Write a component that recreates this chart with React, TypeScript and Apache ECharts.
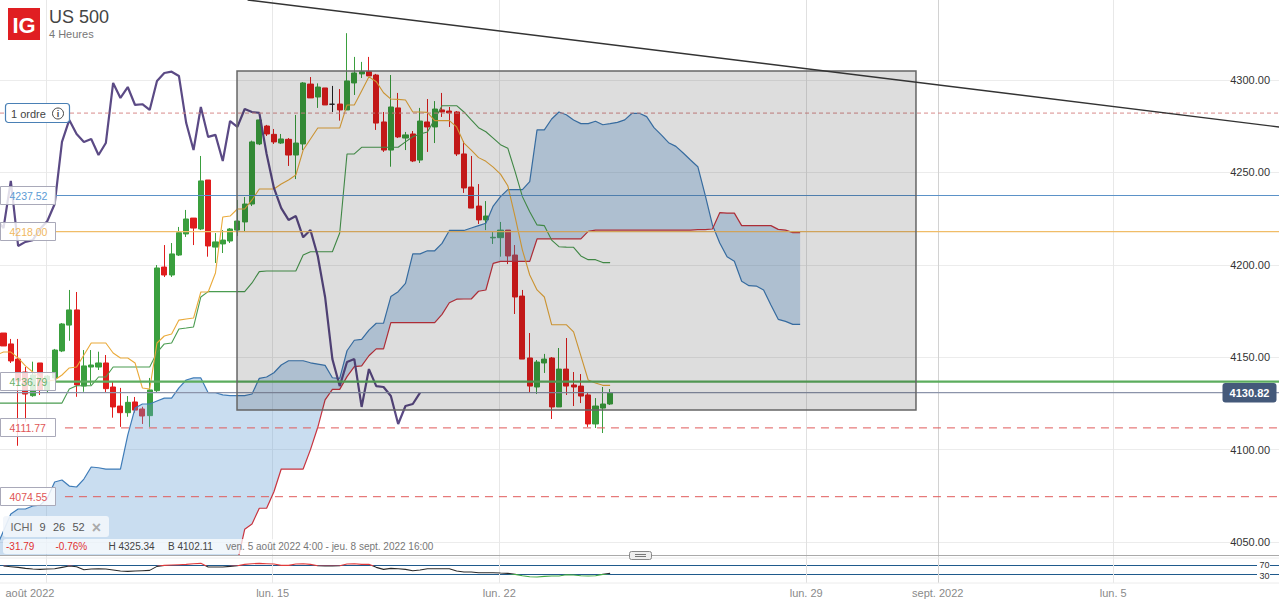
import React, { useEffect, useRef } from "react";
import * as echarts from "echarts";

// ---- data (bar number k = 1..84 for candles, 4-hour bars) ----
const opens = [4163.1,4157.2,4149.0,4142.0,4129.2,4146.9,4132.3,4138.8,4153.4,4167.4,4175.6,4134.4,4144.7,4144.7,4146.9,4133.9,4123.6,4120.0,4125.8,4122.0,4118.4,4131.9,4198.8,4194.5,4205.3,4216.7,4225.3,4219.4,4245.9,4209.6,4211.3,4212.9,4218.8,4223.2,4232.9,4265.4,4275.1,4270.6,4265.9,4267.9,4259.4,4265.4,4297.8,4290.8,4295.7,4286.9,4287.0,4283.8,4298.4,4303.3,4304.5,4302.7,4277.3,4262.1,4284.9,4268.6,4270.8,4256.7,4277.3,4274.6,4283.8,4283.2,4282.7,4260.0,4242.1,4231.8,4224.3,4214.6,4214.7,4218.8,4205.3,4183.1,4149.6,4133.9,4146.9,4149.6,4123.1,4143.6,4135.0,4134.4,4129.6,4113.9,4122.5,4124.7];
const closes = [4156.1,4148.0,4137.1,4130.1,4140.4,4132.3,4139.8,4153.9,4168.0,4175.6,4135.0,4145.3,4145.8,4146.9,4133.0,4123.1,4120.0,4125.6,4121.4,4118.2,4132.3,4198.3,4194.5,4205.9,4217.4,4224.8,4219.9,4245.4,4210.2,4212.4,4213.4,4219.4,4223.7,4232.9,4266.5,4278.4,4270.8,4266.5,4268.1,4259.4,4265.9,4298.4,4290.3,4296.2,4286.5,4286.9,4283.8,4299.5,4303.8,4304.5,4302.2,4276.7,4262.1,4285.4,4269.2,4270.3,4256.2,4277.8,4274.6,4284.3,4282.7,4282.2,4260.0,4241.6,4230.7,4224.3,4226.4,4214.9,4218.8,4204.8,4182.6,4149.0,4134.4,4147.4,4149.0,4123.1,4143.6,4134.4,4133.9,4129.0,4113.9,4123.6,4124.7,4130.82];
const lows = [4156.1,4146.9,4102.11,4115.1,4128.6,4129.6,4130.8,4137.7,4152.8,4158.9,4128.6,4131.3,4135.0,4143.1,4131.2,4117.3,4112.3,4117.8,4120.0,4113.9,4112.3,4130.8,4193.4,4193.4,4204.8,4215.1,4210.7,4218.8,4204.4,4201.0,4206.4,4211.8,4215.6,4217.8,4231.8,4264.8,4269.7,4265.4,4265.4,4253.5,4246.4,4262.1,4290.3,4284.9,4286.5,4282.7,4278.0,4283.8,4291.9,4301.1,4302.2,4273.0,4261.1,4253.1,4268.6,4262.1,4255.6,4255.1,4261.1,4265.9,4280.0,4274.6,4258.9,4238.9,4230.7,4222.1,4218.8,4211.3,4204.4,4200.4,4173.4,4149.0,4131.2,4130.1,4141.5,4116.6,4123.1,4129.6,4123.6,4125.2,4112.3,4111.7,4109.0,4124.2];
const highs = [4163.1,4159.9,4159.9,4144.7,4147.6,4146.9,4140.4,4154.5,4168.5,4186.4,4185.3,4153.9,4153.9,4153.0,4151.2,4136.8,4133.4,4129.0,4128.5,4123.2,4138.8,4199.9,4210.7,4211.8,4220.5,4229.7,4225.3,4258.9,4245.9,4217.2,4218.8,4219.9,4235.1,4236.7,4267.2,4278.9,4275.7,4273.5,4270.8,4268.6,4281.1,4298.9,4301.6,4298.2,4295.7,4296.8,4295.1,4325.34,4312.5,4309.8,4312.5,4303.3,4282.7,4302.7,4293.0,4271.9,4272.4,4284.9,4289.7,4288.6,4293.0,4285.4,4283.2,4267.0,4258.9,4243.7,4234.5,4217.9,4223.2,4218.8,4210.7,4186.4,4163.1,4148.5,4151.8,4150.1,4155.0,4160.4,4142.0,4140.9,4131.2,4127.9,4133.9,4132.8];

// Ichimoku lines, from bar 0
const chikou = [4224.8,4219.9,4245.4,4210.2,4212.4,4213.4,4219.4,4223.7,4232.9,4266.5,4278.4,4270.8,4266.5,4268.1,4259.4,4265.9,4298.4,4290.3,4296.2,4286.5,4286.9,4283.8,4299.5,4303.8,4304.5,4302.2,4276.7,4262.1,4285.4,4269.2,4270.3,4256.2,4277.8,4274.6,4284.3,4282.7,4282.2,4260.0,4241.6,4230.7,4224.3,4226.4,4214.9,4218.8,4204.8,4182.6,4149.0,4134.4,4147.4,4149.0,4123.1,4143.6,4134.4,4133.9,4129.0,4113.9,4123.6,4124.7,4130.82];
const tenkan = [4151.2,4152.8,4152.8,4149.6,4145.3,4142.0,4138.8,4137.1,4137.7,4140.4,4144.2,4144.7,4151.2,4157.7,4157.7,4157.7,4152.3,4149.6,4149.6,4146.9,4133.4,4132.8,4157.7,4161.5,4162.6,4170.1,4170.7,4171.2,4185.3,4185.3,4195.6,4225.9,4226.4,4230.2,4230.2,4235.1,4241.0,4241.0,4241.0,4243.7,4245.9,4248.6,4262.1,4268.1,4274.0,4274.0,4274.0,4274.0,4286.5,4286.5,4294.1,4301.8,4299.1,4293.1,4289.7,4289.5,4289.2,4282.7,4282.7,4282.5,4278.0,4278.0,4278.0,4274.6,4265.9,4262.1,4258.0,4256.0,4252.9,4249.1,4242.8,4225.9,4208.0,4194.5,4186.4,4182.6,4167.6,4167.6,4167.6,4163.7,4150.7,4137.7,4136.1,4134.8,4134.8];
const kijun = [4125.2,4125.2,4125.2,4125.2,4125.2,4125.2,4125.2,4125.2,4125.2,4125.2,4132.8,4134.6,4134.6,4134.6,4139.3,4139.3,4144.7,4144.7,4144.7,4144.7,4144.7,4144.7,4152.5,4157.2,4157.7,4165.3,4165.8,4166.4,4182.6,4185.5,4185.5,4185.5,4185.5,4185.5,4185.5,4190.2,4196.3,4196.7,4196.7,4196.7,4196.7,4196.7,4205.3,4207.1,4207.1,4207.1,4207.1,4217.2,4260.0,4260.0,4263.6,4263.6,4263.6,4263.6,4263.6,4263.6,4266.5,4269.3,4270.8,4271.9,4278.7,4286.1,4286.1,4286.1,4282.7,4278.4,4274.2,4272.0,4268.6,4265.0,4263.1,4250.4,4236.9,4228.7,4221.6,4221.2,4213.4,4209.8,4209.6,4209.5,4204.8,4202.8,4202.8,4201.2,4201.2];
const senkouA = [4047.0,4056.0,4065.2,4067.9,4067.9,4069.5,4070.0,4073.8,4082.5,4083.6,4080.3,4079.8,4084.1,4090.6,4090.2,4089.5,4089.5,4089.5,4107.9,4122.5,4124.7,4124.7,4126.3,4127.9,4127.9,4133.4,4137.7,4138.8,4138.8,4130.8,4130.8,4129.6,4129.2,4129.2,4129.2,4130.1,4138.6,4139.3,4141.6,4145.8,4148.1,4148.1,4148.1,4147.0,4146.3,4145.6,4138.9,4138.6,4153.5,4159.2,4159.7,4164.7,4168.4,4168.5,4182.8,4185.5,4190.0,4205.9,4205.9,4207.6,4207.6,4211.6,4218.6,4218.6,4218.6,4219.9,4221.2,4222.5,4231.8,4236.9,4240.7,4240.7,4240.7,4245.0,4273.0,4273.0,4278.9,4282.7,4281.2,4278.4,4276.4,4276.4,4277.7,4275.8,4276.4,4277.1,4278.4,4282.0,4282.0,4280.2,4274.2,4270.3,4266.1,4264.1,4260.5,4256.7,4253.1,4237.8,4221.6,4211.8,4204.4,4201.9,4191.1,4188.7,4188.5,4186.4,4178.3,4170.5,4169.4,4167.8,4167.8];
const senkouB = [4020,4020,4020,4020,4020,4020,4020,4020,4020,4020,4020,4020,4020,4020,4020,4020,4020,4020,4020,4020,4020,4020,4020,4020,4020,4020,4020,4020,4020,4020,4020,4020,4025,4039.2,4056.9,4059.8,4068.3,4068.3,4077.2,4089.5,4089.5,4089.5,4089.5,4100,4112.1,4126.9,4132.6,4132.6,4139.5,4144.9,4145.3,4150.8,4154.5,4154.5,4168.7,4168.7,4168.7,4168.7,4168.7,4168.7,4168.7,4173.2,4179.5,4181.4,4181.5,4181.5,4185.7,4186.4,4200.8,4201.9,4201.9,4201.9,4201.9,4201.9,4214.0,4214.0,4214.0,4214.0,4214.0,4214.0,4214.0,4218.1,4218.8,4218.8,4218.8,4218.8,4218.8,4218.8,4218.8,4218.8,4218.8,4218.8,4218.8,4218.8,4218.8,4218.8,4219.1,4219.1,4219.4,4228.2,4228.0,4228.0,4221.2,4221.2,4221.2,4221.2,4221.2,4219.2,4218.8,4217.4,4217.4];

// oscillator in the lower pane, from bar 1
const rsi = [68.5,65.4,62.3,57.6,54.5,53,54.5,56,62.3,68.5,65.4,51.4,54.5,56,54.5,49.9,45.2,43.7,45.2,46.8,48.3,66.9,71.6,73.1,74.7,76.2,79.3,80.9,63.8,63.8,63.8,66.9,70,76.2,79.3,80.9,79.3,77.8,71.6,71.6,77.8,79.3,76.2,70,68.5,68.5,70,77.8,79.3,76.2,76.2,62.3,53,57.6,56,53,46.8,49.9,56,56,56,56,45.2,40.6,40.6,37.5,37.5,37.5,35.9,34.4,29.7,23.5,18.9,17.3,20.4,22,22,28.2,26.6,23.5,22,23.5,29.7,34.4];

// price levels
const levelBlue = 4237.52;
const levelOrange = 4218.0;
const levelGreen = 4136.79;
const levelLast = 4130.82;
const levelRedA = 4111.77;
const levelRedB = 4074.55;
const levelOrder = 4282.1;
const trendLine = [[34.4, 4343.3], [175.52, 4274.6]];
const boxCorners = [[32.95, 4304.9, 125.85, 4121.4]];

// axes
const priceTicks = [4050, 4100, 4150, 4200, 4250, 4300];
const oscTicks = [30, 70];
const gridTicks = [6.83, 37.83, 68.83, 110.83, 128.83, 152.83];
const gridColors = ["#e8e8e8", "#e8e8e8", "#e8e8e8", "#e0e0e0", "#d2d2d2", "#e8e8e8"];
const dateTicks = [4.62, 37.83, 68.83, 110.83, 128.83, 152.83];
const dateLabels = ["août 2022", "lun. 15", "lun. 22", "lun. 29", "sept. 2022", "lun. 5"];

const FONT = '"Liberation Sans", Arial, sans-serif';
const pairs = (arr: number[], start: number) => arr.map((v, i) => [start + i, v]);
const hline = (v: number, from: number) => [[from, v], [175.52, v]];

function levelLine(name: string, data: number[][], color: string, width: number, z: number, type: any = "solid") {
  return { name, type: "line", data, showSymbol: false, silent: true, z, lineStyle: { color, width, type }, animation: false };
}

function boxLabel(text: string, y: number, color: string) {
  return [
    { type: "rect", z: 100, shape: { x: 0.5, y, width: 55, height: 18 }, style: { fill: "rgba(255,255,255,0.82)", stroke: "#a9a9b9", lineWidth: 1 } },
    { type: "text", z: 101, style: { x: 9.5, y: y + 9.5, text, fill: color, font: `10.5px ${FONT}`, align: "left", verticalAlign: "middle" } },
  ];
}

function txt(text: string, x: number, y: number, fill: string, size = 11, align = "left", weight = "normal") {
  return { type: "text", z: 102, style: { x, y, text, fill, font: `${weight} ${size}px ${FONT}`, align, verticalAlign: "middle" } };
}

export default function App() {
  const ref = useRef<HTMLDivElement>(null);
  useEffect(() => {
    document.body.style.margin = "0";
    document.body.style.background = "#fff";
    const chart = echarts.init(ref.current!, null, { renderer: "svg", width: 1279, height: 602 });

    const candles = opens.map((o, i) => [i + 1, o, closes[i], lows[i], highs[i]]);
    const cloudRows = senkouA.map((a, i) => [i, a, senkouB[i]]);

    const series: any[] = [
      {
        name: "US 500", type: "candlestick", data: candles, barWidth: 5.6, z: 2, silent: true,
        encode: { x: 0, y: [1, 2, 3, 4] },
        itemStyle: { color: "#3a9f3e", color0: "#e01c1c", borderColor: "#3a9f3e", borderColor0: "#e01c1c", borderColorDoji: "#222", borderWidth: 1 },
      },
      {
        name: "cloud", type: "custom", z: 3, silent: true, clip: true, data: cloudRows,
        encode: { x: 0, y: [1, 2] },
        renderItem: (p: any, api: any) => {
          if (p.dataIndex !== 0) return null;
          const upper = cloudRows.map((r) => api.coord([r[0], r[1]]));
          const lower = cloudRows.map((r) => api.coord([r[0], r[2]])).reverse();
          return {
            type: "polygon",
            shape: { points: upper.concat(lower) },
            style: { fill: "rgba(101,158,212,0.35)" },
          };
        },
      },
      levelLine("Senkou A", pairs(senkouA, 0), "#3f7cb8", 1.2, 4),
      levelLine("Senkou B", pairs(senkouB, 0), "#c8343f", 1.2, 4),
      levelLine("Kijun", pairs(kijun, 0), "#4a9c50", 1.1, 5),
      levelLine("Tenkan", pairs(tenkan, 0), "#eaaa3a", 1.1, 5),
      levelLine("Chikou", pairs(chikou, 0), "#5b4a85", 2.2, 6),
      levelLine("order", hline(levelOrder, 0.52), "#d88a8a", 1, 7, [4, 3]),
      levelLine("blue", hline(levelBlue, 8.18), "#5b92c8", 1.2, 7),
      levelLine("orange", hline(levelOrange, 8.18), "#f0bd68", 1.2, 7),
      levelLine("green", hline(levelGreen, 8.18), "#5cad5e", 2.2, 7),
      levelLine("last", hline(levelLast, 0.52), "#8c94aa", 1.2, 7),
      levelLine("redA", hline(levelRedA, 9.41), "#e05a5a", 1, 7, [8, 6]),
      levelLine("redB", hline(levelRedB, 9.41), "#e05a5a", 1, 7, [8, 6]),
      levelLine("trend", trendLine, "#333", 1.4, 11),
      {
        name: "box", type: "custom", z: 10, silent: true, data: boxCorners, clip: false,
        encode: { x: [0, 2], y: [1, 3] },
        renderItem: (_p: any, api: any) => {
          const a = api.coord([api.value(0), api.value(1)]);
          const b = api.coord([api.value(2), api.value(3)]);
          return {
            type: "rect",
            shape: { x: a[0], y: a[1], width: b[0] - a[0], height: b[1] - a[1] },
            style: { fill: "rgba(0,0,0,0.135)", stroke: "#666", lineWidth: 1.5 },
          };
        },
      },
      {
        name: "RSI", type: "line", xAxisIndex: 1, yAxisIndex: 1, data: pairs(rsi, 1), showSymbol: false, silent: true, z: 5,
        lineStyle: { width: 1.1 },
      },
    ];
    const rsiIndex = series.length - 1;

    const xCommon = { type: "value", min: 0.52, max: 175.52, axisLine: { show: false } };
    const option: any = {
      animation: false,
      textStyle: { fontFamily: FONT },
      tooltip: { show: false },
      visualMap: {
        show: false, seriesIndex: rsiIndex, dimension: 1,
        pieces: [{ gt: 70, color: "#e23a3a" }, { gt: 30, lte: 70, color: "#2a2a2a" }, { lte: 30, color: "#44aa44" }],
      },
      grid: [
        { left: 0, width: 1279, top: 0, height: 555 },
        { left: 0, width: 1279, top: 556, height: 27 },
      ],
      xAxis: [
        {
          ...xCommon, gridIndex: 0,
          axisTick: { show: false, customValues: gridTicks },
          axisLabel: { show: false },
          splitLine: { show: true, lineStyle: { color: gridColors, width: 1 } },
        },
        {
          ...xCommon, gridIndex: 1,
          axisTick: { show: false, customValues: gridTicks },
          axisLabel: {
            show: true, customValues: dateTicks, margin: 4, fontSize: 11, fontFamily: FONT, hideOverlap: false,
            color: (v: number) => (dateLabels[dateTicks.indexOf(v)] || "").includes("2022") ? "#333" : "#8a8a8a",
            formatter: (v: number) => dateLabels[dateTicks.indexOf(v)] || "",
          },
          splitLine: { show: true, lineStyle: { color: gridColors, width: 1 } },
        },
      ],
      yAxis: [
        {
          type: "value", gridIndex: 0, position: "right", min: 4043.0, max: 4343.29,
          axisLine: { show: false },
          axisTick: { show: false, customValues: priceTicks },
          axisLabel: {
            inside: true, margin: 9, customValues: priceTicks, color: "#333", fontSize: 11, fontFamily: FONT,
            backgroundColor: "#fff", padding: [0, 0, 0, 0],
            formatter: (v: number) => v.toFixed(2),
          },
          splitLine: { show: true, lineStyle: { color: "#ececec", width: 1 } },
        },
        {
          type: "value", gridIndex: 1, position: "right", min: -10.5, max: 115.1,
          axisLine: { show: false },
          axisTick: { show: false, customValues: oscTicks },
          axisLabel: { show: false },
          splitLine: { show: true, lineStyle: { color: "#1f5a8c", width: 1.2 } },
        },
      ],
      series,
      graphic: [
        // header
        { type: "rect", z: 100, shape: { x: 8, y: 8, width: 32, height: 32 }, style: { fill: "#e01e22" } },
        txt("IG", 24, 25, "#fff", 22, "center", "bold"),
        txt("US 500", 49, 17, "#444", 18),
        txt("4 Heures", 49, 34, "#777", 11),
        // order tag
        { type: "rect", z: 100, shape: { x: 5.5, y: 103.5, width: 64, height: 19, r: 3 }, style: { fill: "#fff", stroke: "#4a80b5", lineWidth: 1.2 } },
        txt("1 ordre", 11, 113.5, "#444", 11),
        { type: "circle", z: 101, shape: { cx: 58, cy: 113.5, r: 5.5 }, style: { fill: "#fff", stroke: "#444", lineWidth: 1 } },
        txt("i", 58, 113.5, "#444", 9, "center", "bold"),
        // level labels
        ...boxLabel("4237.52", 186.5, "#5b9bd5"),
        ...boxLabel("4218.00", 222.5, "#f0b860"),
        ...boxLabel("4136.79", 372.5, "#6ab06a"),
        ...boxLabel("4111.77", 418.5, "#e05555"),
        ...boxLabel("4074.55", 487.5, "#e05555"),
        // last price
        { type: "rect", z: 100, shape: { x: 1222.5, y: 383, width: 54, height: 19.5, r: 3 }, style: { fill: "#44597a" } },
        txt("4130.82", 1249.5, 393, "#fff", 11, "center", "bold"),
        // indicator tag
        { type: "rect", z: 100, shape: { x: 3, y: 516, width: 106, height: 21, r: 3 }, style: { fill: "rgba(241,245,251,0.92)" } },
        txt("ICHI", 10.5, 527, "#666", 11),
        txt("9", 39.5, 527, "#555", 11),
        txt("26", 53, 527, "#555", 11),
        txt("52", 72.5, 527, "#555", 11),
        txt("×", 96.3, 527, "#aaa", 16, "center", "bold"),
        // statistics
        { type: "rect", z: 100, shape: { x: 3, y: 539, width: 431, height: 15, r: 3 }, style: { fill: "rgba(255,255,255,0.72)" } },
        txt("-31.79", 6, 546.5, "#e03030", 10),
        txt("-0.76%", 55.5, 546.5, "#e03030", 10),
        txt("H 4325.34", 108.5, 546.5, "#444", 10),
        txt("B 4102.11", 168, 546.5, "#444", 10),
        txt("ven. 5 août 2022 4:00 - jeu. 8 sept. 2022 16:00", 226, 546.5, "#777", 10),
        // pane separator
        { type: "line", z: 99, shape: { x1: 0, y1: 555.5, x2: 1279, y2: 555.5 }, style: { stroke: "#aaa", lineWidth: 1 } },
        { type: "line", z: 1, shape: { x1: 0, y1: 558, x2: 1279, y2: 558 }, style: { stroke: "#ececec", lineWidth: 1 } },
        { type: "line", z: 1, shape: { x1: 0, y1: 583, x2: 1279, y2: 583 }, style: { stroke: "#ececec", lineWidth: 1 } },
        // oscillator scale
        { type: "rect", z: 100, shape: { x: 1257, y: 560, width: 13, height: 20 }, style: { fill: "#fff" } },
        txt(String(oscTicks[1]), 1269.5, 565, "#333", 9, "right"),
        txt(String(oscTicks[0]), 1269.5, 575.5, "#333", 9, "right"),
        // resize handle
        { type: "rect", z: 100, shape: { x: 629.5, y: 551.5, width: 22, height: 8, r: 2 }, style: { fill: "#eee", stroke: "#888", lineWidth: 1 } },
        { type: "line", z: 101, shape: { x1: 635, y1: 554.5, x2: 646, y2: 554.5 }, style: { stroke: "#777", lineWidth: 1 } },
        { type: "line", z: 101, shape: { x1: 635, y1: 556.5, x2: 646, y2: 556.5 }, style: { stroke: "#777", lineWidth: 1 } },
      ],
    };
    chart.setOption(option);
    return () => chart.dispose();
  }, []);
  return <div ref={ref} style={{ position: "absolute", left: 0, top: 0, width: 1279, height: 602, overflow: "hidden" }} />;
}
